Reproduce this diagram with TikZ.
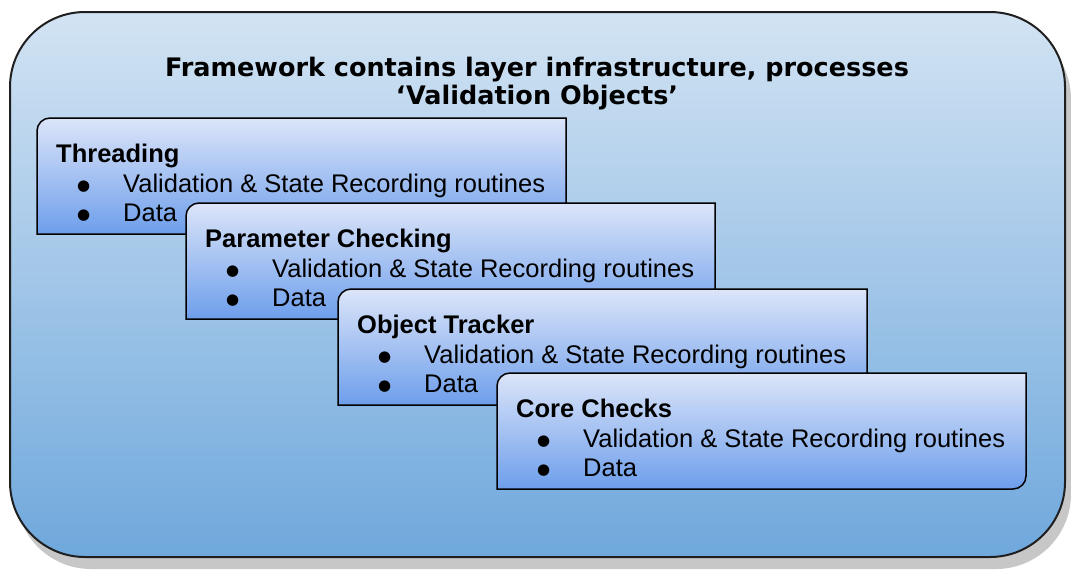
\documentclass[tikz,border=0pt]{standalone}
\usepackage{fontspec}
\setmainfont{Liberation Sans}
\newfontfamily\titlefont{DejaVu Sans}
\newfontfamily\symfont{DejaVu Sans}
\usepackage{xcolor}
\usepackage{tikz}
\definecolor{outertop}{HTML}{D2E3F3}
\definecolor{outerbot}{HTML}{6FA8DC}
\definecolor{layertop}{HTML}{DCE5F9}
\definecolor{layerbot}{HTML}{6D9EEB}
\def\layerw{529}
\def\layerh{116}
\def\rad{13}
\tikzstyle{every node}=[inner sep=0pt, font=\fontsize{25.5}{30}\selectfont]
\tikzstyle{layer}=[draw=black, line width=1.5pt, top color=layertop, bottom color=layerbot]
\tikzstyle{head}=[anchor=base west, font=\fontsize{25.5}{30}\selectfont\bfseries]
\tikzstyle{item}=[anchor=base west]
\newcommand{\bul}{\makebox[67pt][l]{\hspace*{21pt}\raisebox{1.5pt}{\symfont\fontsize{15}{18}\selectfont ●}}}

\begin{document}
\begin{tikzpicture}[x=1pt,y=1pt]
\useasboundingbox (0,0) rectangle (1071,-571);

% framework
\fill[black!22, rounded corners=75pt] (16,-24) rectangle (1071,-569);
\shade[draw=black!88, line width=2pt, rounded corners=75pt,
  top color=outertop, bottom color=outerbot] (10,-12) rectangle (1065,-557);
\node[anchor=north, align=center, font=\titlefont\fontsize{25.5}{28}\selectfont\bfseries]
  (title) at (537,-57) {Framework contains layer infrastructure, processes\\‘Validation Objects’};

% layers
\foreach \x/\y/\nm/\lbl in {37/118/thr/Threading, 186/203/par/Parameter Checking,
    338/289/obj/Object Tracker, 497/373/core/Core Checks} {
  \path[layer] (\x,-\y-\layerh) -- (\x,-\y-\rad)
    arc[start angle=180, end angle=90, radius=\rad pt] -- (\x+\layerw,-\y)
    -- (\x+\layerw,-\y-\layerh+\rad)
    arc[start angle=0, end angle=-90, radius=\rad pt] -- cycle;
  \node[head] (\nm) at (\x+19,-\y-44) {\lbl};
  \node[item] (\nm-a) at (\x+19,-\y-74) {\bul Validation \& State Recording routines};
  \node[item] (\nm-b) at (\x+19,-\y-103) {\bul Data};
}

\end{tikzpicture}
\end{document}
